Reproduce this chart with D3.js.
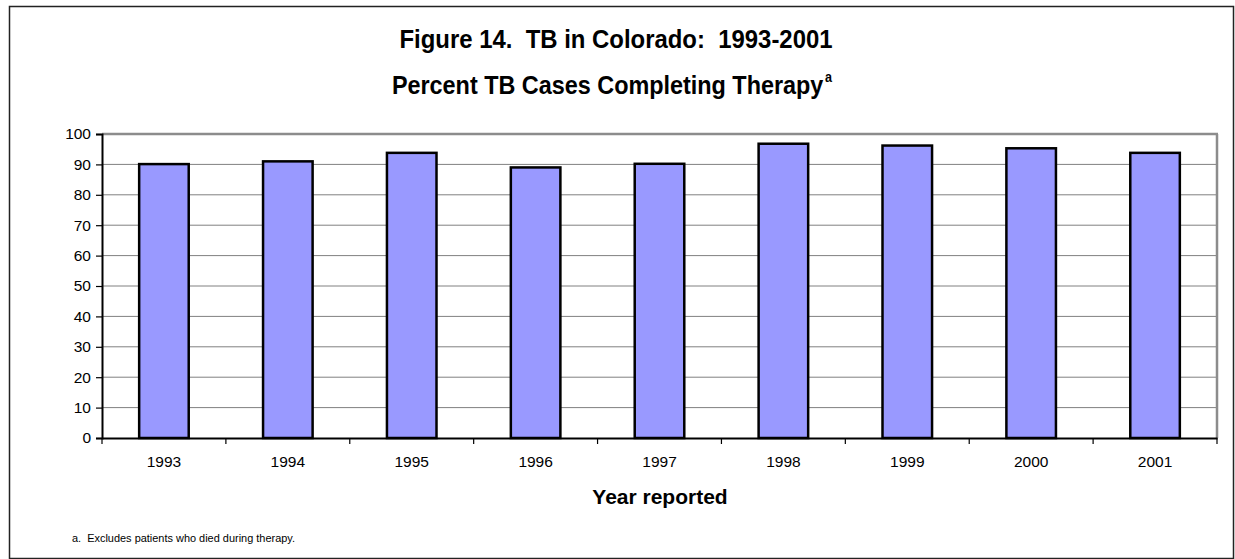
<!DOCTYPE html>
<html>
<head>
<meta charset="utf-8">
<script src="https://cdn.jsdelivr.net/npm/d3@7"></script>
<style>
  html, body { margin: 0; padding: 0; background: #fff; }
  svg { display: block; font-family: "Liberation Sans", Arial, sans-serif; }
  svg text { white-space: pre; }
</style>
</head>
<body>
<svg id="chart" width="1235" height="559"></svg>
<script>
const years = ["1993","1994","1995","1996","1997","1998","1999","2000","2001"];
const percentCompleted = [90.1, 91.0, 93.8, 89.0, 90.2, 96.8, 96.2, 95.3, 93.8];
const yTicks = [0,10,20,30,40,50,60,70,80,90,100];
const titleLine1 = "Figure 14.  TB in Colorado:  1993-2001";
const titleLine2 = "Percent TB Cases Completing Therapy";
const titleSup = "a";
const xAxisTitle = "Year reported";
const footnote = "a.  Excludes patients who died during therapy.";

(function () {
const svg = d3.select("#chart");
const plotLeft = 102, plotRight = 1217, plotTop = 134, plotBottom = 438;

const x = d3.scaleBand().domain(years).range([plotLeft, plotRight]).paddingInner(0.6).paddingOuter(0.3);
const y = d3.scaleLinear().domain([0, 100]).range([plotBottom, plotTop]);

// outer frame
svg.append("rect").attr("x", 9.5).attr("y", 6.5).attr("width", 1224).attr("height", 552)
  .attr("fill", "none").attr("stroke", "#222").attr("stroke-width", 1.5);

// titles (horizontally condensed like the reference)
svg.append("g").attr("transform", "translate(616,48) scale(0.92,1)")
  .append("text").attr("text-anchor", "middle").attr("xml:space", "preserve")
  .attr("font-size", 26).attr("font-weight", "bold").text(titleLine1);
const t2 = svg.append("g").attr("transform", "translate(612,94) scale(0.9,1)")
  .append("text").attr("text-anchor", "middle")
  .attr("font-size", 26).attr("font-weight", "bold");
t2.append("tspan").text(titleLine2);
t2.append("tspan").attr("dx", 2).attr("dy", -12).attr("font-size", 14).text(titleSup);

// gridlines
svg.append("g").selectAll("line").data(yTicks.filter(d => d > 0 && d < 100)).join("line")
  .attr("x1", plotLeft).attr("x2", plotRight).attr("y1", d => y(d)).attr("y2", d => y(d))
  .attr("stroke", "#808080").attr("stroke-width", 1);

// plot area top & right border
svg.append("line").attr("x1", plotLeft).attr("x2", plotRight + 1).attr("y1", y(100)).attr("y2", y(100))
  .attr("stroke", "#8c8c8c").attr("stroke-width", 2.5);
svg.append("line").attr("x1", plotRight).attr("x2", plotRight).attr("y1", y(100)).attr("y2", y(0))
  .attr("stroke", "#8c8c8c").attr("stroke-width", 2.5);

// bars
svg.append("g").selectAll("rect").data(years).join("rect")
  .attr("x", d => x(d)).attr("width", x.bandwidth())
  .attr("y", (d, i) => y(percentCompleted[i]))
  .attr("height", (d, i) => y(0) - y(percentCompleted[i]))
  .attr("fill", "#9999ff").attr("stroke", "#000").attr("stroke-width", 2.5);

// y axis
const yAxis = d3.axisLeft(y).tickValues(yTicks).tickSize(6).tickPadding(5);
const gy = svg.append("g").attr("transform", `translate(${plotLeft},0)`).call(yAxis);
gy.select(".domain").attr("stroke", "#000").attr("stroke-width", 2);
gy.selectAll(".tick line").attr("stroke", "#000").attr("stroke-width", 1.2);
gy.selectAll(".tick text").attr("font-size", 15.5).attr("font-family", "Liberation Sans, Arial, sans-serif").attr("fill", "#000");

// x axis
const xAxis = d3.axisBottom(x).tickSize(0).tickPadding(18);
const gx = svg.append("g").attr("transform", `translate(0,${plotBottom})`).call(xAxis);
gx.select(".domain").attr("stroke", "#000").attr("stroke-width", 2);
gx.selectAll(".tick text").attr("font-size", 15.5).attr("font-family", "Liberation Sans, Arial, sans-serif").attr("fill", "#000");

// category boundary ticks
const step = x.step();
const boundaries = d3.range(years.length + 1).map(i => plotLeft + i * step);
svg.append("g").selectAll("line").data(boundaries).join("line")
  .attr("x1", d => d).attr("x2", d => d).attr("y1", plotBottom).attr("y2", plotBottom + 6)
  .attr("stroke", "#000").attr("stroke-width", 1.2);

// x axis title
svg.append("text").attr("x", 660).attr("y", 504).attr("text-anchor", "middle")
  .attr("font-size", 21).attr("font-weight", "bold").text(xAxisTitle);

// footnote
svg.append("text").attr("x", 72).attr("y", 542).attr("xml:space", "preserve")
  .attr("font-size", 11).attr("textLength", 223).attr("lengthAdjust", "spacingAndGlyphs").text(footnote);
})();
</script>
</body>
</html>
